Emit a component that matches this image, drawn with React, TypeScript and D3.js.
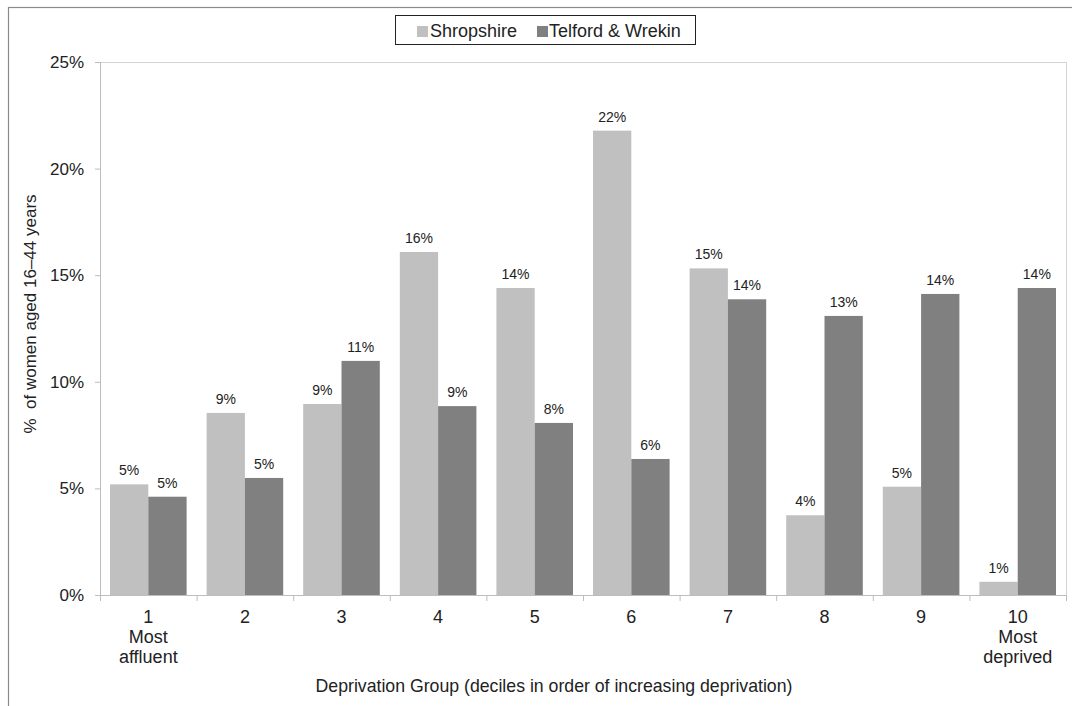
import React from "react";
import * as d3 from "d3";

const categories = ["1", "2", "3", "4", "5", "6", "7", "8", "9", "10"];
const categoryLabels: string[][] = [
  ["1", "Most", "affluent"],
  ["2"],
  ["3"],
  ["4"],
  ["5"],
  ["6"],
  ["7"],
  ["8"],
  ["9"],
  ["10", "Most", "deprived"],
];
const seriesNames = ["Shropshire", "Telford & Wrekin"];
const shropshire = [5.19, 8.54, 8.96, 16.09, 14.4, 21.78, 15.32, 3.74, 5.08, 0.62];
const telford = [4.61, 5.49, 10.98, 8.86, 8.07, 6.38, 13.87, 13.09, 14.12, 14.4];
const yTicks = [0, 5, 10, 15, 20, 25];
const colors = ["#c0c0c0", "#808080"];

const W = 1072;
const H = 706;
const M = { left: 100, right: 1066, top: 62, bottom: 595 };
const FONT = "Arial, 'Liberation Sans', sans-serif";

export default function App() {
  const x0 = d3.scaleBand<string>().domain(categories).range([M.left, M.right]).padding(0);
  const bw = x0.bandwidth();
  const x1 = d3.scaleBand<string>().domain(seriesNames).range([10, bw - 10]).padding(0);
  const y = d3.scaleLinear().domain([0, 25]).range([M.bottom, M.top]);
  const series = [shropshire, telford];

  return (
    <svg
      width={W}
      height={H}
      style={{ position: "absolute", left: 0, top: 0, background: "#fff" }}
      fontFamily={FONT}
    >
      <rect x={0} y={0} width={W} height={H} fill="#fff" />
      {/* outer frame */}
      <rect x={8.5} y={7.5} width={W + 10} height={H + 10} fill="none" stroke="#8a8a8a" strokeWidth={1.2} />

      {/* plot area border */}
      <line x1={M.left} x2={M.right} y1={M.top + 0.5} y2={M.top + 0.5} stroke="#d4d4d4" />
      <line x1={M.right + 0.5} x2={M.right + 0.5} y1={M.top} y2={M.bottom} stroke="#d4d4d4" />

      {/* bars */}
      {series.map((vals, si) =>
        vals.map((v, i) => {
          const bx = (x0(categories[i]) ?? 0) + (x1(seriesNames[si]) ?? 0);
          const by = y(v);
          return (
            <g key={`${si}-${i}`}>
              <rect x={bx} y={by} width={x1.bandwidth()} height={y(0) - by} fill={colors[si]} />
              <text
                x={bx + x1.bandwidth() / 2}
                y={by - 9}
                textAnchor="middle"
                fontSize={14}
                fill="#222"
              >
                {Math.round(v) + "%"}
              </text>
            </g>
          );
        })
      )}

      {/* y axis */}
      <line x1={M.left + 0.5} x2={M.left + 0.5} y1={M.top} y2={M.bottom} stroke="#bdbdbd" />
      {yTicks.map((t) => (
        <g key={t}>
          <line x1={M.left - 5} x2={M.left} y1={y(t) + 0.5} y2={y(t) + 0.5} stroke="#bdbdbd" />
          <text x={M.left - 16} y={y(t) + 6} textAnchor="end" fontSize={17} fill="#222">
            {t + "%"}
          </text>
        </g>
      ))}

      {/* x axis */}
      <line x1={M.left} x2={M.right} y1={M.bottom + 0.5} y2={M.bottom + 0.5} stroke="#bdbdbd" />
      {[...categories.map((c) => x0(c) ?? 0), M.right].map((xv, i) => (
        <line key={i} x1={xv + 0.5} x2={xv + 0.5} y1={M.bottom} y2={M.bottom + 6} stroke="#bdbdbd" />
      ))}
      {categories.map((c, i) => (
        <text key={c} textAnchor="middle" fontSize={18} fill="#222">
          {categoryLabels[i].map((ln, j) => (
            <tspan key={j} x={(x0(c) ?? 0) + bw / 2} y={623 + j * 20}>
              {ln}
            </tspan>
          ))}
        </text>
      ))}

      {/* axis titles */}
      <text x={554} y={692} textAnchor="middle" fontSize={17.7} fill="#222">
        Deprivation Group (deciles in order of increasing deprivation)
      </text>
      <text
        transform="translate(36,314) rotate(-90)"
        textAnchor="middle"
        fontSize={17}
        fill="#222"
        xmlSpace="preserve"
      >
        {"%  of women aged 16–44 years"}
      </text>

      {/* legend */}
      <rect x={395.5} y={15.5} width={300} height={29} fill="#fff" stroke="#222" strokeWidth={1} />
      <rect x={417} y={26} width={11} height={11} fill={colors[0]} />
      <text x={430} y={37} fontSize={18} fill="#222">
        {seriesNames[0]}
      </text>
      <rect x={537} y={26} width={11} height={11} fill={colors[1]} />
      <text x={549} y={37} fontSize={18} fill="#222">
        {seriesNames[1]}
      </text>
    </svg>
  );
}
